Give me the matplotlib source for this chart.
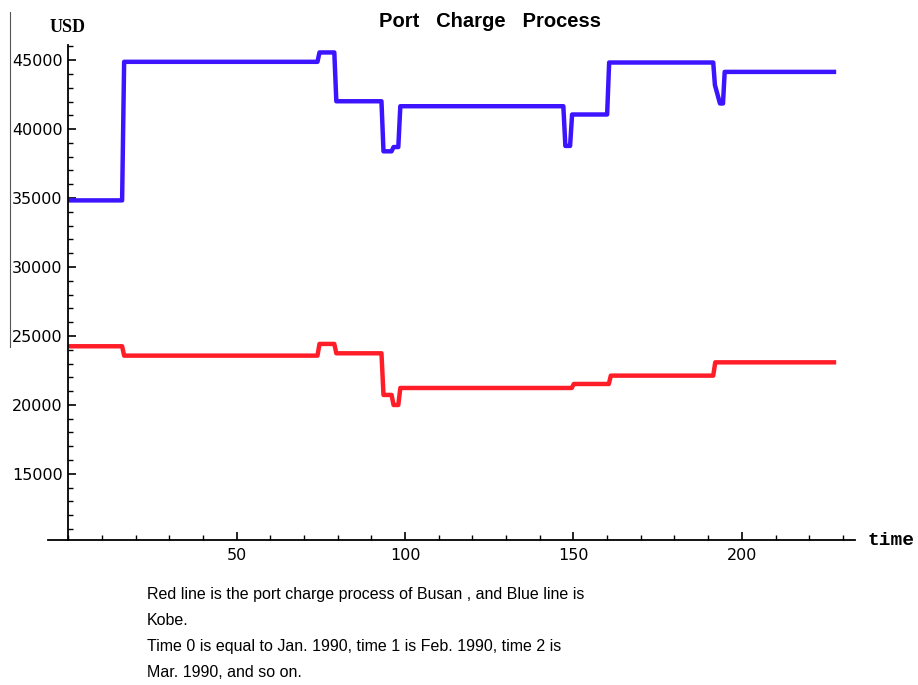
import matplotlib
matplotlib.use("Agg")
import matplotlib.pyplot as plt
from matplotlib.ticker import MultipleLocator
from matplotlib.lines import Line2D

# Kobe (blue) - vertices of the monthly step line
kobe_t = [0, 16, 16.6, 74, 74.6, 79, 79.6, 93, 93.6, 96, 96.6, 98, 98.6, 147, 147.6,
          149, 149.6, 160, 160.6, 191.5, 192, 193.5, 194.4, 194.9, 228]
kobe_usd = [34830, 34830, 44880, 44880, 45560, 45560, 42020, 42020, 38390, 38390,
            38700, 38700, 41660, 41660, 38780, 38780, 41060, 41060, 44830, 44830,
            43200, 41860, 41860, 44150, 44150]

# Busan (red)
busan_t = [0, 16, 16.6, 74, 74.6, 79, 79.6, 93, 93.6, 96, 96.6, 98, 98.6, 149.5, 150.1,
           160.5, 161.1, 191.5, 192.1, 228]
busan_usd = [24250, 24250, 23570, 23570, 24420, 24420, 23740, 23740, 20720, 20720,
             19990, 19990, 21225, 21225, 21515, 21515, 22120, 22120, 23085, 23085]

x_ticks = [50, 100, 150, 200]
y_ticks = [15000, 20000, 25000, 30000, 35000, 40000, 45000]

caption = ("Red line is the port charge process of Busan , and Blue line is\n"
           "Kobe.\n"
           "Time 0 is equal to Jan. 1990, time 1 is Feb. 1990, time 2 is\n"
           "Mar. 1990, and so on.")

fig = plt.figure(figsize=(9.18, 6.85), dpi=100)
ax = fig.add_axes([0.0523, 0.2117, 0.8791, 0.7226])

ax.plot(kobe_t, kobe_usd, color="#3c14ff", lw=3.2, solid_joinstyle="round",
        solid_capstyle="butt")
ax.plot(busan_t, busan_usd, color="#ff1e28", lw=3.2, solid_joinstyle="round",
        solid_capstyle="butt")

ax.set_xlim(-6, 233.6)
ax.set_ylim(10200, 46100)

ax.spines["top"].set_visible(False)
ax.spines["right"].set_visible(False)
ax.spines["left"].set_position(("data", 0))
ax.spines["left"].set_linewidth(1.3)
ax.spines["bottom"].set_linewidth(1.3)

ax.set_xticks(x_ticks)
ax.set_yticks(y_ticks)
ax.xaxis.set_minor_locator(MultipleLocator(10))
ax.yaxis.set_minor_locator(MultipleLocator(1000))
ax.tick_params(which="major", direction="in", length=6, width=1.2,
               labelsize=11.5, pad=4)
ax.tick_params(which="minor", direction="in", length=3.5, width=1.0)
ax.tick_params(axis="x", pad=6)

fig.text(0.534, 0.969, "Port   Charge   Process", fontfamily="Liberation Sans",
         fontweight="bold", fontsize=14.5, ha="center", va="center")

fig.text(0.0545, 0.960, "USD", fontfamily="Liberation Serif", fontweight="bold",
         fontsize=13, ha="left", va="center")
fig.text(0.945, 0.211, "time", fontfamily="Liberation Mono", fontweight="bold",
         fontsize=14, ha="left", va="center")

fig.text(0.160, 0.143, caption, fontfamily="Liberation Sans", fontsize=11.5,
         ha="left", va="top", linespacing=1.92)

# thin scan border on the left
fig.add_artist(Line2D([0.011, 0.011], [0.982, 0.493], color="#555555", lw=0.8))

fig.savefig("out.png", dpi=100)
